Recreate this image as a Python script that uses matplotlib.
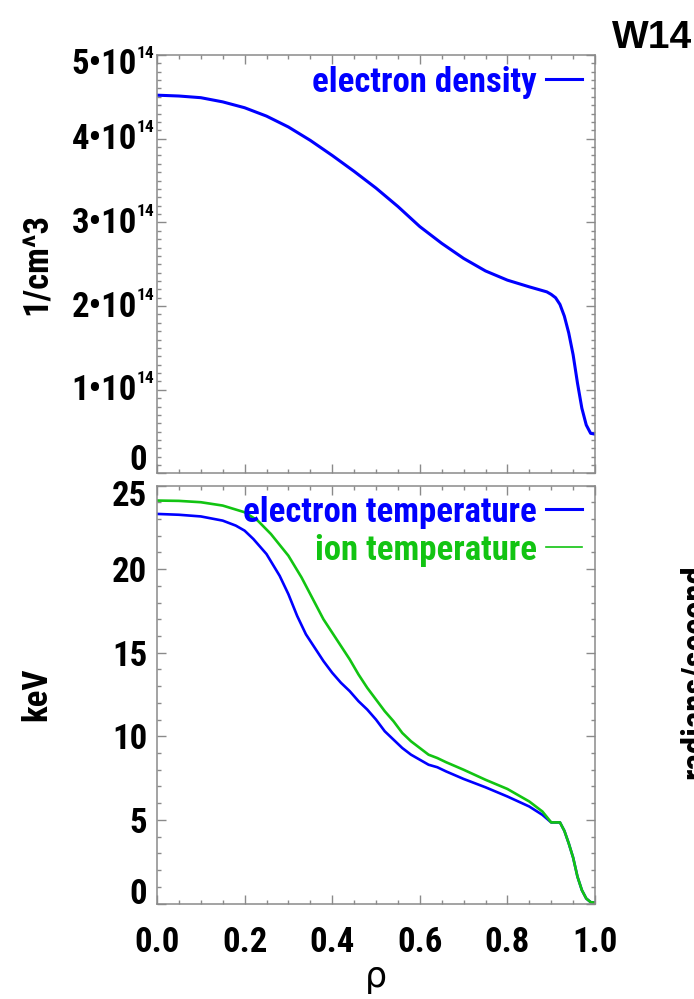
import numpy as np
import matplotlib
matplotlib.use("Agg")
import matplotlib.pyplot as plt
from matplotlib import font_manager
from matplotlib.ticker import MultipleLocator, FixedLocator, NullFormatter
from matplotlib.transforms import ScaledTranslation

# ---- data ----
rho_ne = [0.00, 0.05, 0.10, 0.15, 0.20, 0.25, 0.30, 0.35, 0.40, 0.45, 0.50,
          0.55, 0.60, 0.65, 0.70, 0.75, 0.80, 0.85, 0.87, 0.89, 0.90, 0.91,
          0.92, 0.93, 0.94, 0.95, 0.96, 0.97, 0.98, 0.99, 1.00]
ne_1e14 = [4.52, 4.51, 4.49, 4.44, 4.37, 4.27, 4.14, 3.98, 3.80, 3.61, 3.41,
           3.19, 2.95, 2.75, 2.57, 2.42, 2.31, 2.23, 2.20, 2.17, 2.14, 2.10,
           2.02, 1.88, 1.68, 1.42, 1.08, 0.78, 0.58, 0.48, 0.47]

rho_te = [0.00, 0.05, 0.10, 0.15, 0.18, 0.20, 0.22, 0.25, 0.28, 0.30, 0.32,
          0.34, 0.36, 0.38, 0.40, 0.42, 0.44, 0.46, 0.48, 0.50, 0.52, 0.54,
          0.56, 0.58, 0.60, 0.62, 0.64, 0.66, 0.70, 0.75, 0.80, 0.85, 0.88,
          0.90, 0.92, 0.93, 0.94, 0.95, 0.96, 0.97, 0.98, 0.99, 1.00]
te_kev = [23.3, 23.25, 23.15, 22.9, 22.6, 22.3, 21.8, 20.9, 19.6, 18.5, 17.2,
          16.1, 15.3, 14.5, 13.8, 13.2, 12.7, 12.1, 11.6, 11.0, 10.3, 9.8,
          9.3, 8.9, 8.6, 8.3, 8.15, 7.9, 7.45, 6.95, 6.4, 5.8, 5.3,
          4.85, 4.85, 4.35, 3.6, 2.75, 1.6, 0.8, 0.3, 0.08, 0.05]

rho_ti = [0.00, 0.05, 0.10, 0.15, 0.20, 0.23, 0.26, 0.30, 0.33, 0.36, 0.38,
          0.40, 0.42, 0.44, 0.46, 0.48, 0.50, 0.52, 0.54, 0.56, 0.58, 0.60,
          0.62, 0.64, 0.66, 0.70, 0.75, 0.80, 0.85, 0.88, 0.90, 0.92, 0.93,
          0.94, 0.95, 0.96, 0.97, 0.98, 0.99, 1.00]
ti_kev = [24.1, 24.08, 24.0, 23.8, 23.4, 22.9, 22.1, 20.8, 19.5, 18.0, 17.0,
          16.2, 15.4, 14.6, 13.7, 12.9, 12.2, 11.5, 10.9, 10.2, 9.7, 9.3,
          8.9, 8.7, 8.45, 8.0, 7.4, 6.85, 6.1, 5.5, 4.85, 4.85, 4.35,
          3.6, 2.75, 1.6, 0.8, 0.3, 0.08, 0.05]

ne_ticks = [0, 1, 2, 3, 4, 5]          # x 1e14
ne_tick_main = ["0", "1•10", "2•10", "3•10", "4•10", "5•10"]
ne_tick_sup = ["", "14", "14", "14", "14", "14"]
t_ticks = [0, 5, 10, 15, 20, 25]
rho_ticks = [0.0, 0.2, 0.4, 0.6, 0.8, 1.0]
rho_ticklabels = ["0.0", "0.2", "0.4", "0.6", "0.8", "1.0"]

BLUE = "#0000ff"
GREEN = "#12c412"
GRAY = "#8a8a8a"

# pick a condensed bold sans if one is around (IDL-ish narrow Helvetica)
names = {f.name for f in font_manager.fontManager.ttflist}
FAMILY, STRETCH, FS = "Liberation Sans", "normal", 23
for cand in ["Liberation Sans Narrow", "Roboto Condensed", "Open Sans Condensed",
             "Noto Sans Condensed", "Arial Narrow"]:
    if cand in names:
        FAMILY, FS = cand, 25
        break
else:
    for f in font_manager.fontManager.ttflist:
        if f.name == "DejaVu Sans" and str(f.stretch) == "condensed":
            FAMILY, STRETCH, FS = "DejaVu Sans", "condensed", 23
            break

plt.rcParams["font.family"] = [FAMILY, "DejaVu Sans"]
plt.rcParams["font.stretch"] = STRETCH
plt.rcParams["font.weight"] = "bold"
plt.rcParams["axes.labelweight"] = "bold"

W, H = 694, 999
fig = plt.figure(figsize=(W / 100, H / 100), dpi=100)


def axrect(l, t, r, b):
    return [l / W, 1 - b / H, (r - l) / W, (b - t) / H]


ax1 = fig.add_axes(axrect(157, 55, 595, 473.5))
ax2 = fig.add_axes(axrect(157, 485.5, 595, 903.5))

for ax in (ax1, ax2):
    ax.set_xlim(0, 1)
    for s in ax.spines.values():
        s.set_color(GRAY)
        s.set_linewidth(1.1)
    ax.xaxis.set_major_locator(FixedLocator(rho_ticks))
    ax.xaxis.set_minor_locator(MultipleLocator(0.05))
    ax.tick_params(which="both", direction="in", top=True, right=True,
                   color=GRAY, width=1.0)
    ax.tick_params(which="major", length=6.5)
    ax.tick_params(which="minor", length=3.2)

# ---- top panel: electron density ----
ax1.plot(rho_ne, np.array(ne_1e14) * 1e14, color=BLUE, lw=2.2)
ax1.set_ylim(0, 5e14)
ax1.yaxis.set_major_locator(FixedLocator([v * 1e14 for v in ne_ticks]))
ax1.yaxis.set_minor_locator(MultipleLocator(1e13))
ax1.xaxis.set_major_formatter(NullFormatter())
ax1.yaxis.set_major_formatter(NullFormatter())
for v, m, s in zip(ne_ticks, ne_tick_main, ne_tick_sup):
    dy = 0
    if v == ne_ticks[0]:
        dy = 13      # end labels sit inside the axis range, as IDL does
    elif v == ne_ticks[-1]:
        dy = -9
    if s:
        ax1.annotate(m, xy=(0, v * 1e14), xycoords=("axes fraction", "data"),
                     xytext=(-20, dy - 1), textcoords="offset pixels",
                     ha="right", va="center", fontsize=FS)
        ax1.annotate(s, xy=(0, v * 1e14), xycoords=("axes fraction", "data"),
                     xytext=(-20, dy + 11), textcoords="offset pixels",
                     ha="left", va="center", fontsize=FS * 0.5)
    else:
        ax1.annotate(m, xy=(0, v * 1e14), xycoords=("axes fraction", "data"),
                     xytext=(-10, dy), textcoords="offset pixels",
                     ha="right", va="center", fontsize=FS)

ax1.text(0.8676, 0.9116, "electron density", transform=ax1.transAxes,
         color=BLUE, fontsize=FS, ha="right", va="baseline")
ax1.plot([0.888, 0.970], [0.9427, 0.9427], transform=ax1.transAxes,
         color=BLUE, lw=2.2)
ax1.set_ylabel("1/cm^3", fontsize=FS, fontweight="bold")
ax1.yaxis.set_label_coords(-0.236, 0.5)

# ---- bottom panel: temperatures ----
ax2.plot(rho_te, te_kev, color=BLUE, lw=1.9)
ax2.plot(rho_ti, ti_kev, color=GREEN, lw=1.9)
ax2.set_ylim(0, 25)
ax2.yaxis.set_major_locator(FixedLocator(t_ticks))
ax2.yaxis.set_minor_locator(MultipleLocator(1))
ax2.set_yticklabels([str(t) for t in t_ticks], fontsize=FS)
ax2.set_xticklabels(rho_ticklabels, fontsize=FS)
ax2.tick_params(axis="y", which="major", pad=7)
ax2.tick_params(axis="x", which="major", pad=16)
ylabs = ax2.get_yticklabels()
ylabs[0].set_transform(ylabs[0].get_transform() +
                       ScaledTranslation(0, 13 / 100, fig.dpi_scale_trans))
ylabs[-1].set_transform(ylabs[-1].get_transform() +
                        ScaledTranslation(0, -7 / 100, fig.dpi_scale_trans))

ax2.text(0.8676, 0.9127, "electron temperature", transform=ax2.transAxes,
         color=BLUE, fontsize=FS, ha="right", va="baseline")
ax2.plot([0.888, 0.970], [0.9438, 0.9438], transform=ax2.transAxes,
         color=BLUE, lw=2.2)
ax2.text(0.8676, 0.8218, "ion temperature", transform=ax2.transAxes,
         color=GREEN, fontsize=FS, ha="right", va="baseline")
ax2.plot([0.888, 0.970], [0.8529, 0.8529], transform=ax2.transAxes,
         color=GREEN, lw=1.2)
ax2.set_ylabel("keV", fontsize=FS, fontweight="bold")
ax2.yaxis.set_label_coords(-0.236, 0.5)
ax2.set_xlabel("ρ", fontsize=25, fontweight="normal", family="DejaVu Sans",
               fontstretch="normal")
ax2.xaxis.set_label_coords(0.5, -0.135)

# ---- bits of neighbouring panels cut by the crop ----
fig.text(612 / W, 1 - 48 / H, "W14", fontsize=28, fontweight="bold",
         family="Liberation Sans", fontstretch="normal", ha="left", va="baseline")
fig.text(679 / W, 1 - 672 / H, "radians/second", fontsize=FS,
         rotation=90, ha="left", va="center")

fig.savefig("out.png", dpi=100)
